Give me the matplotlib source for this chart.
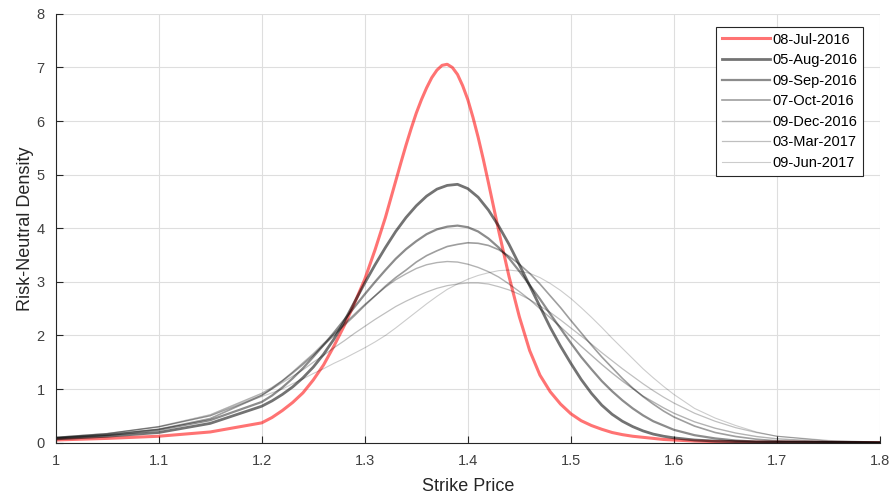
import matplotlib.pyplot as plt

# strike grid (denser around the peaks)
strike = [1.00, 1.05, 1.10, 1.15,
          1.20, 1.21, 1.22, 1.23, 1.24, 1.25, 1.26, 1.27, 1.28, 1.29,
          1.30, 1.31, 1.32, 1.33, 1.34, 1.35, 1.36, 1.37, 1.38, 1.39,
          1.40, 1.41, 1.42, 1.43, 1.44, 1.45, 1.46, 1.47, 1.48, 1.49,
          1.50, 1.51, 1.52, 1.53, 1.54, 1.55, 1.56, 1.57, 1.58, 1.59,
          1.60, 1.62, 1.64, 1.66, 1.68, 1.70, 1.75, 1.80]

# the July curve is sharp, so it gets a finer grid near its peak
strike_jul = [1.00, 1.05, 1.10, 1.15,
              1.20, 1.21, 1.22, 1.23, 1.24, 1.25, 1.26, 1.27, 1.28, 1.29,
              1.30, 1.31, 1.32, 1.33, 1.335, 1.34, 1.345, 1.35, 1.355,
              1.36, 1.365, 1.37, 1.375, 1.38, 1.385, 1.39, 1.395, 1.40,
              1.405, 1.41, 1.415, 1.42, 1.425, 1.43, 1.44, 1.45, 1.46,
              1.47, 1.48, 1.49, 1.50, 1.51, 1.52, 1.53, 1.54, 1.55, 1.56,
              1.57, 1.58, 1.59, 1.60, 1.62, 1.64, 1.66, 1.68, 1.70, 1.75,
              1.80]

# risk-neutral densities
jul16 = [0.05, 0.08, 0.12, 0.20,
         0.37, 0.47, 0.60, 0.75, 0.93, 1.17, 1.45, 1.80, 2.18, 2.60,
         3.05, 3.60, 4.20, 4.88, 5.22, 5.55, 5.86, 6.15, 6.40,
         6.62, 6.81, 6.95, 7.04, 7.06, 7.00, 6.87, 6.66, 6.40,
         6.07, 5.70, 5.29, 4.85, 4.40, 3.95, 3.10, 2.35, 1.72,
         1.26, 0.95, 0.72, 0.54, 0.41, 0.32, 0.25, 0.19, 0.15, 0.12,
         0.10, 0.08, 0.06, 0.05, 0.03, 0.02, 0.015, 0.01, 0.01, 0.005,
         0.0]
aug16 = [0.07, 0.12, 0.19, 0.36,
         0.68, 0.78, 0.90, 1.04, 1.21, 1.41, 1.65, 1.93, 2.26, 2.62,
         2.98, 3.32, 3.64, 3.94, 4.20, 4.42, 4.60, 4.73, 4.80, 4.82,
         4.74, 4.58, 4.34, 4.04, 3.70, 3.32, 2.93, 2.54, 2.15, 1.80,
         1.48, 1.18, 0.92, 0.70, 0.53, 0.40, 0.30, 0.22, 0.16, 0.12,
         0.09, 0.05, 0.03, 0.02, 0.01, 0.01, 0.005, 0.0]
sep16 = [0.08, 0.14, 0.24, 0.42,
         0.76, 0.88, 1.03, 1.20, 1.39, 1.60, 1.82, 2.05, 2.29, 2.53,
         2.77, 3.00, 3.22, 3.43, 3.61, 3.76, 3.89, 3.98, 4.03, 4.05,
         4.02, 3.94, 3.81, 3.64, 3.44, 3.20, 2.94, 2.68, 2.40, 2.13,
         1.86, 1.60, 1.37, 1.15, 0.96, 0.79, 0.64, 0.51, 0.40, 0.32,
         0.24, 0.14, 0.08, 0.04, 0.02, 0.01, 0.005, 0.0]
oct16 = [0.09, 0.15, 0.25, 0.45,
         0.88, 1.01, 1.15, 1.30, 1.46, 1.63, 1.82, 2.00, 2.19, 2.37,
         2.56, 2.74, 2.92, 3.08, 3.22, 3.37, 3.49, 3.58, 3.66, 3.70,
         3.73, 3.72, 3.68, 3.60, 3.48, 3.33, 3.16, 2.96, 2.74, 2.52,
         2.28, 2.05, 1.82, 1.60, 1.40, 1.20, 1.02, 0.86, 0.72, 0.59,
         0.48, 0.31, 0.19, 0.115, 0.065, 0.035, 0.01, 0.0]
dec16 = [0.10, 0.17, 0.30, 0.52,
         0.92, 1.03, 1.16, 1.32, 1.49, 1.66, 1.85, 2.03, 2.22, 2.40,
         2.58, 2.74, 2.90, 3.04, 3.15, 3.25, 3.32, 3.36, 3.38, 3.37,
         3.33, 3.27, 3.19, 3.09, 2.96, 2.82, 2.67, 2.50, 2.33, 2.16,
         1.98, 1.80, 1.63, 1.46, 1.30, 1.15, 1.01, 0.87, 0.76, 0.65,
         0.55, 0.39, 0.27, 0.18, 0.115, 0.072, 0.02, 0.005]
mar17 = [0.10, 0.17, 0.29, 0.50,
         0.89, 1.00, 1.12, 1.24, 1.36, 1.50, 1.63, 1.77, 1.90, 2.04,
         2.17, 2.30, 2.42, 2.54, 2.64, 2.73, 2.81, 2.88, 2.93, 2.96,
         2.98, 2.98, 2.96, 2.91, 2.85, 2.77, 2.67, 2.55, 2.43, 2.29,
         2.14, 1.99, 1.84, 1.68, 1.53, 1.38, 1.24, 1.10, 0.97, 0.85,
         0.74, 0.55, 0.40, 0.28, 0.19, 0.12, 0.04, 0.01]
jun17 = [0.10, 0.17, 0.30, 0.50,
         0.86, 0.93, 1.00, 1.10, 1.19, 1.29, 1.38, 1.48, 1.57, 1.67,
         1.77, 1.88, 2.00, 2.14, 2.29, 2.44, 2.59, 2.73, 2.86, 2.96,
         3.05, 3.12, 3.17, 3.21, 3.22, 3.20, 3.16, 3.08, 2.97, 2.84,
         2.69, 2.52, 2.34, 2.15, 1.95, 1.76, 1.57, 1.38, 1.21, 1.05,
         0.90, 0.64, 0.46, 0.32, 0.20, 0.12, 0.03, 0.01]

dates = ['08-Jul-2016', '05-Aug-2016', '09-Sep-2016', '07-Oct-2016',
         '09-Dec-2016', '03-Mar-2017', '09-Jun-2017']
xticks = [1.0, 1.1, 1.2, 1.3, 1.4, 1.5, 1.6, 1.7, 1.8]
xtick_labels = ['1', '1.1', '1.2', '1.3', '1.4', '1.5', '1.6', '1.7', '1.8']
yticks = [0, 1, 2, 3, 4, 5, 6, 7, 8]

plt.rcParams['font.family'] = ['Liberation Sans', 'DejaVu Sans']

fig = plt.figure(figsize=(8.95, 4.96), dpi=100)
ax = fig.add_axes([0.0622, 0.1075, 0.921, 0.8645])

xs = [strike_jul] + [strike] * 6
series = [jul16, aug16, sep16, oct16, dec16, mar17, jun17]
colors = ['red', 'black', 'black', 'black', 'black', 'black', 'black']
alphas = [0.55, 0.55, 0.45, 0.38, 0.30, 0.25, 0.20]
widths = [2.2, 2.0, 1.6, 1.2, 1.0, 0.9, 0.8]

for x, y, lab, c, a, w in zip(xs, series, dates, colors, alphas, widths):
    ax.plot(x, y, color=c, alpha=a, lw=w, label=lab)

ax.set_xlim(1, 1.8)
ax.set_ylim(0, 8)
ax.set_xticks(xticks)
ax.set_xticklabels(xtick_labels)
ax.set_yticks(yticks)

ax.grid(True, color='#dedede', lw=0.8)
ax.set_axisbelow(True)
for s in ['top', 'right']:
    ax.spines[s].set_visible(False)
for s in ['left', 'bottom']:
    ax.spines[s].set_color('#262626')
    ax.spines[s].set_linewidth(0.8)
ax.tick_params(direction='in', length=5, width=0.8, colors='#262626',
               labelcolor='#404040', labelsize=10.5, pad=8)

ax.set_xlabel('Strike Price', fontsize=13, color='#262626', labelpad=7)
ax.set_ylabel('Risk-Neutral Density', fontsize=13, color='#262626', labelpad=2)

leg = ax.legend(loc='upper right', bbox_to_anchor=(0.98, 0.97), borderaxespad=0,
                fontsize=10.5, handlelength=3.3, handletextpad=0.2,
                labelspacing=0.45, borderpad=0.4, fancybox=False,
                framealpha=1, edgecolor='#262626')
leg.get_frame().set_linewidth(0.8)

plt.savefig('out.png', dpi=100)
